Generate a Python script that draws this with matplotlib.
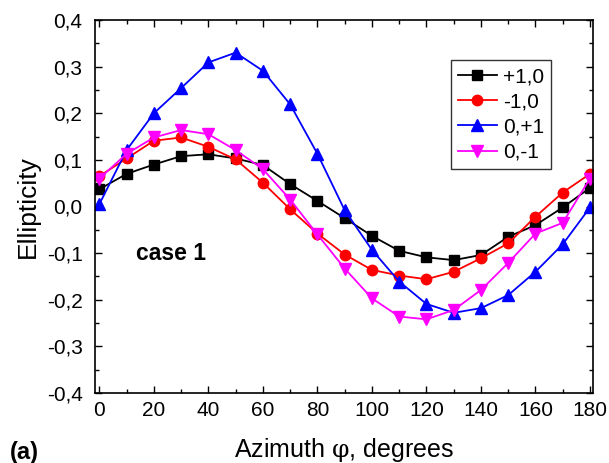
import matplotlib
matplotlib.use("Agg")
import matplotlib.pyplot as plt
from matplotlib.ticker import MultipleLocator, FuncFormatter

# 数据：方位角和四种情况的椭圆度
azimuth = [0, 10, 20, 30, 40, 50, 60, 70, 80, 90, 100, 110, 120, 130, 140, 150, 160, 170, 180]
p10 = [0.037, 0.070, 0.090, 0.108, 0.112, 0.103, 0.089, 0.048, 0.012, -0.025,
       -0.063, -0.095, -0.109, -0.115, -0.104, -0.065, -0.040, -0.002, 0.040]
m10 = [0.065, 0.103, 0.141, 0.148, 0.128, 0.101, 0.051, -0.006, -0.058, -0.103,
       -0.136, -0.148, -0.156, -0.140, -0.111, -0.079, -0.022, 0.030, 0.070]
p01 = [0.005, 0.121, 0.200, 0.254, 0.309, 0.330, 0.291, 0.219, 0.113, -0.008,
       -0.093, -0.161, -0.209, -0.228, -0.218, -0.190, -0.140, -0.081, -0.002]
m01 = [0.060, 0.113, 0.148, 0.164, 0.155, 0.121, 0.080, 0.015, -0.060, -0.133,
       -0.197, -0.236, -0.242, -0.222, -0.179, -0.121, -0.058, -0.035, 0.060]
labels = ["+1,0", "-1,0", "0,+1", "0,-1"]

plt.rcParams["font.family"] = ["Liberation Sans", "DejaVu Sans"]
plt.rcParams["mathtext.fontset"] = "custom"
plt.rcParams["mathtext.rm"] = "Liberation Sans"
plt.rcParams["mathtext.it"] = "DejaVu Serif"

fig = plt.figure(figsize=(6.09, 4.63), dpi=100)
ax = fig.add_axes([95 / 609, 1 - 393 / 463, 498 / 609, 373 / 463])

ax.plot(azimuth, p10, color="black", marker="s", ms=7, lw=1.3, label=labels[0])
ax.plot(azimuth, m10, color="red", marker="o", ms=7.5, lw=1.3, label=labels[1])
ax.plot(azimuth, p01, color="blue", marker="^", ms=8.5, lw=1.3, label=labels[2])
ax.plot(azimuth, m01, color="magenta", marker="v", ms=8.5, lw=1.3, label=labels[3])

ax.set_xlim(-1.6, 181.1)
ax.set_ylim(-0.4, 0.4)
ax.xaxis.set_major_locator(MultipleLocator(20))
ax.xaxis.set_minor_locator(MultipleLocator(10))
ax.yaxis.set_major_locator(MultipleLocator(0.1))
ax.yaxis.set_minor_locator(MultipleLocator(0.05))
ax.yaxis.set_major_formatter(FuncFormatter(lambda v, p: f"{v:.1f}".replace(".", ",").replace("-0,0", "0,0")))
ax.tick_params(which="both", direction="in", top=True, right=True, labelsize=15, width=1)
ax.tick_params(which="major", length=5)
ax.tick_params(axis="y", which="major", pad=9)
ax.tick_params(axis="x", which="major", pad=6)
ax.tick_params(which="minor", length=3)
for s in ax.spines.values():
    s.set_linewidth(1.2)

ax.set_xlabel(r"Azimuth $\varphi$, degrees", fontsize=18, labelpad=11)
ax.set_ylabel("Ellipticity", fontsize=19, labelpad=5)

ax.text(13.5, -0.1, "case 1", fontsize=16.5, fontweight="bold", va="center", ha="left")
fig.text(10 / 609, 1 - 453 / 463, "(a)", fontsize=17, fontweight="bold", va="center", ha="left")

leg = ax.legend(loc="upper right", bbox_to_anchor=(0.916, 0.893), borderaxespad=0,
                fontsize=15, frameon=True, fancybox=False, handlelength=1.85,
                handletextpad=0.3, labelspacing=0.3, borderpad=0.35)
leg.get_frame().set_edgecolor("black")
leg.get_frame().set_linewidth(1)

plt.savefig("out.png", dpi=100)
